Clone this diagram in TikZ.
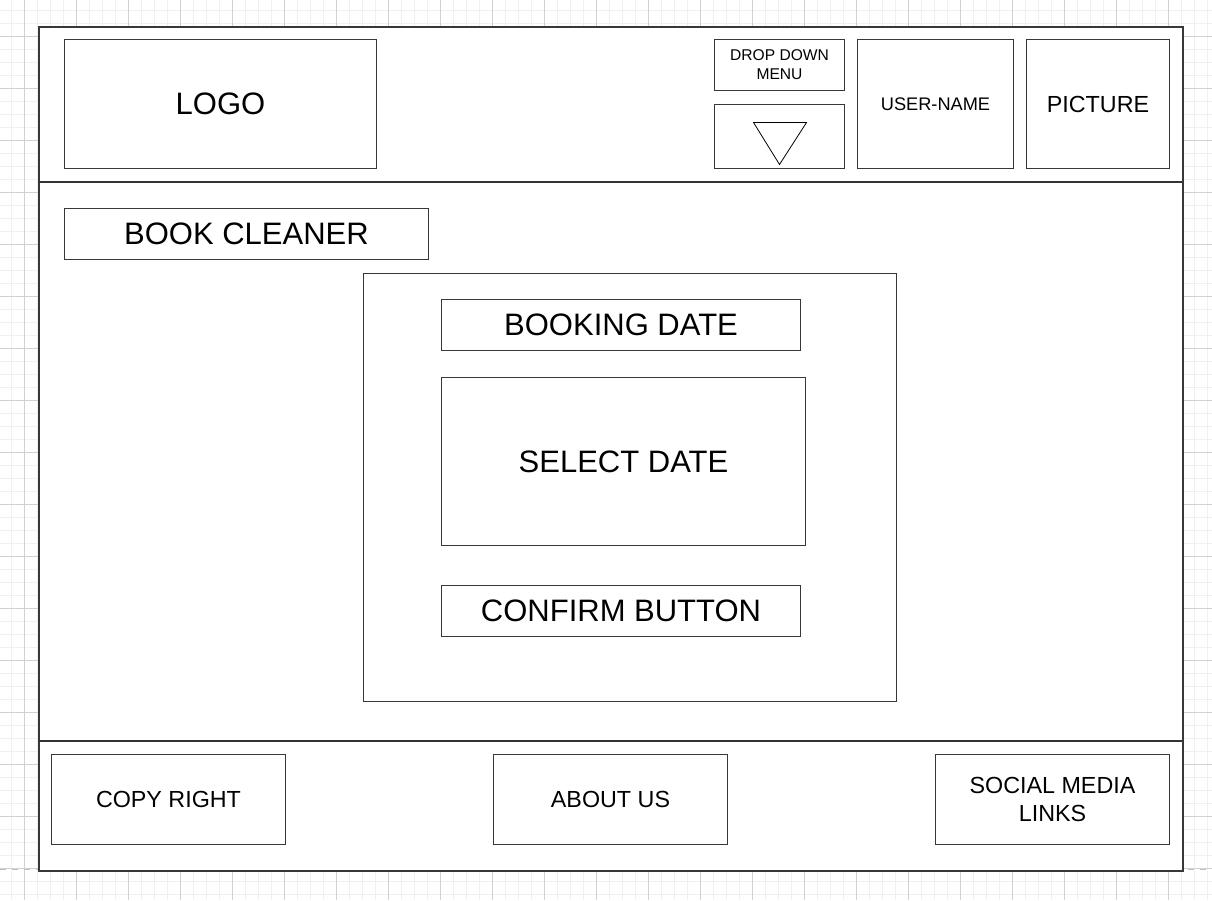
\documentclass[tikz,border=0pt]{standalone}
\usepackage{fontspec}
\setmainfont{Liberation Sans}
\usetikzlibrary{positioning,calc}

\tikzset{
  box/.style={draw=black!78, line width=1pt, fill=white, anchor=north west, inner sep=0pt, align=center},
  wsize/.style 2 args={minimum width=#1pt, minimum height=#2pt},
  bigtxt/.style={font=\fontsize{31}{35}\selectfont},
  midtxt/.style={font=\fontsize{23.3}{28}\selectfont},
  smalltxt/.style={font=\fontsize{18.2}{22}\selectfont},
  tinytxt/.style={font=\fontsize{15.6}{19}\selectfont},
}

\begin{document}
\begin{tikzpicture}[x=1pt, y=-1pt]
        \useasboundingbox (0,0) rectangle (1212,900);
        % Background grid
        \foreach \gx in {11,24,...,1211} \draw[black!6, line width=1pt] (\gx,0) -- (\gx,900);
        \foreach \gy in {10,23,...,900} \draw[black!6, line width=1pt] (0,\gy) -- (1212,\gy);
        \foreach \gx in {24,76,...,1211} \draw[black!18, line width=1pt] (\gx,0) -- (\gx,900);
        \foreach \gy in {36,88,...,900} \draw[black!18, line width=1pt] (0,\gy) -- (1212,\gy);
        \draw[black!25, line width=1pt, dash pattern=on 6pt off 6pt] (0,869) -- (1212,869);

        % Page frame and section lines
        \node[box, wsize={1144}{844}, line width=1.5pt] (frame) at (38,26) {};
        \coordinate (hdl) at (38,182);
        \coordinate (hdr) at (1182,182);
        \coordinate (ftl) at (38,741);
        \coordinate (ftr) at (1182,741);
        \draw[black!80, line width=1.3pt] (hdl) -- (hdr);
        \draw[black!80, line width=1.3pt] (ftl) -- (ftr);

        % Header
        \node[box, wsize={312}{129}, bigtxt] (logo) at (64,39) {LOGO};
        \node[box, wsize={130}{51}, tinytxt] (dropmenu) at (714,39) {DROP DOWN\\MENU};
        \node[box, wsize={130}{64}] (dropbtn) at (714,104) {};
        \draw[black, line width=0.8pt] ($(dropbtn.center)+(-26,-14)$) -- ($(dropbtn.center)+(27,-14)$) -- ($(dropbtn.center)+(0,28)$) -- cycle;
        \node[box, wsize={156}{129}, smalltxt] (username) at (857,39) {USER-NAME};
        \node[box, wsize={143}{129}, midtxt] (picture) at (1026,39) {PICTURE};

        % Body
        \node[box, wsize={364}{51}, bigtxt] (bookcleaner) at (64,208) {BOOK CLEANER};
        \node[box, wsize={533}{428}] (panel) at (363,273) {};
        \node[box, wsize={359}{51}, bigtxt] (bookingdate) at (441,299) {BOOKING DATE};
        \node[box, wsize={364}{168}, bigtxt] (selectdate) at (441,377) {SELECT DATE};
        \node[box, wsize={359}{51}, bigtxt] (confirm) at (441,585) {CONFIRM BUTTON};

        % Footer
        \node[box, wsize={234}{90}, midtxt] (copyright) at (51,754) {COPY RIGHT};
        \node[box, wsize={234}{90}, midtxt] (aboutus) at (493,754) {ABOUT US};
        \node[box, wsize={234}{90}, midtxt] (social) at (935,754) {SOCIAL MEDIA\\LINKS};
    \end{tikzpicture}
\end{document}
